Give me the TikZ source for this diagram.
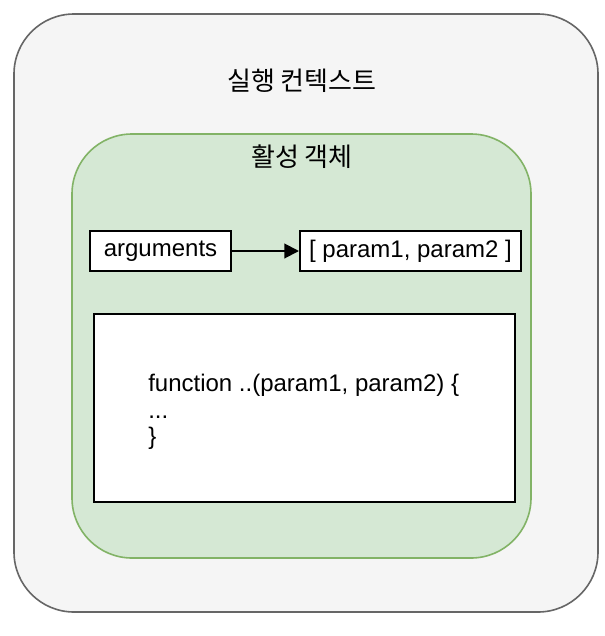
\documentclass[tikz,border=0pt]{standalone}
\usepackage{fontspec}
\setmainfont{Liberation Sans}
\newfontfamily\krfont{Noto Sans CJK KR}
\usetikzlibrary{arrows.meta}
\definecolor{outerfill}{HTML}{F5F5F5}
\definecolor{outerdraw}{HTML}{666666}
\definecolor{greenfill}{HTML}{D5E8D4}
\definecolor{greendraw}{HTML}{82B366}
\begin{document}
\begin{tikzpicture}[x=0.75pt,y=-0.75pt,
  container/.style={rounded corners=45pt,line width=1.2pt},
  whitebox/.style={draw=black,fill=white,line width=1.5pt},
  lbl/.style={font=\krfont\fontsize{19.5}{22}\selectfont,inner sep=0pt},
  txt/.style={font=\fontsize{18}{20}\selectfont,inner sep=0pt},
  conn/.style={line width=1.5pt,-{Triangle[length=11pt,width=11pt]}}]
\useasboundingbox (0,0) rectangle (604,636);
\path[container,draw=outerdraw,fill=outerfill] (14,14) rectangle (598,612);
\path[container,draw=greendraw,fill=greenfill] (72,134) rectangle (531,558);
\node[lbl] (ctx) at (302,81) {실행 컨텍스트};
\node[lbl] (act) at (302,157) {활성 객체};
\node[whitebox,minimum width=141*0.75pt,minimum height=40*0.75pt,inner sep=0pt,txt] (args) at (160.5,251) {arguments};
\node[whitebox,minimum width=221*0.75pt,minimum height=40*0.75pt,inner sep=0pt,txt] (params) at (410.5,251) {[ param1, param2 ]};
\node[whitebox,minimum width=421*0.75pt,minimum height=188*0.75pt,inner sep=0pt] (func) at (304.5,408) {};
\node[txt,anchor=north west,align=left] (code) at (148,374) {function ..(param1, param2) \{\\...\\\}};
\draw[conn] (args) -- (params);
\end{tikzpicture}
\end{document}
